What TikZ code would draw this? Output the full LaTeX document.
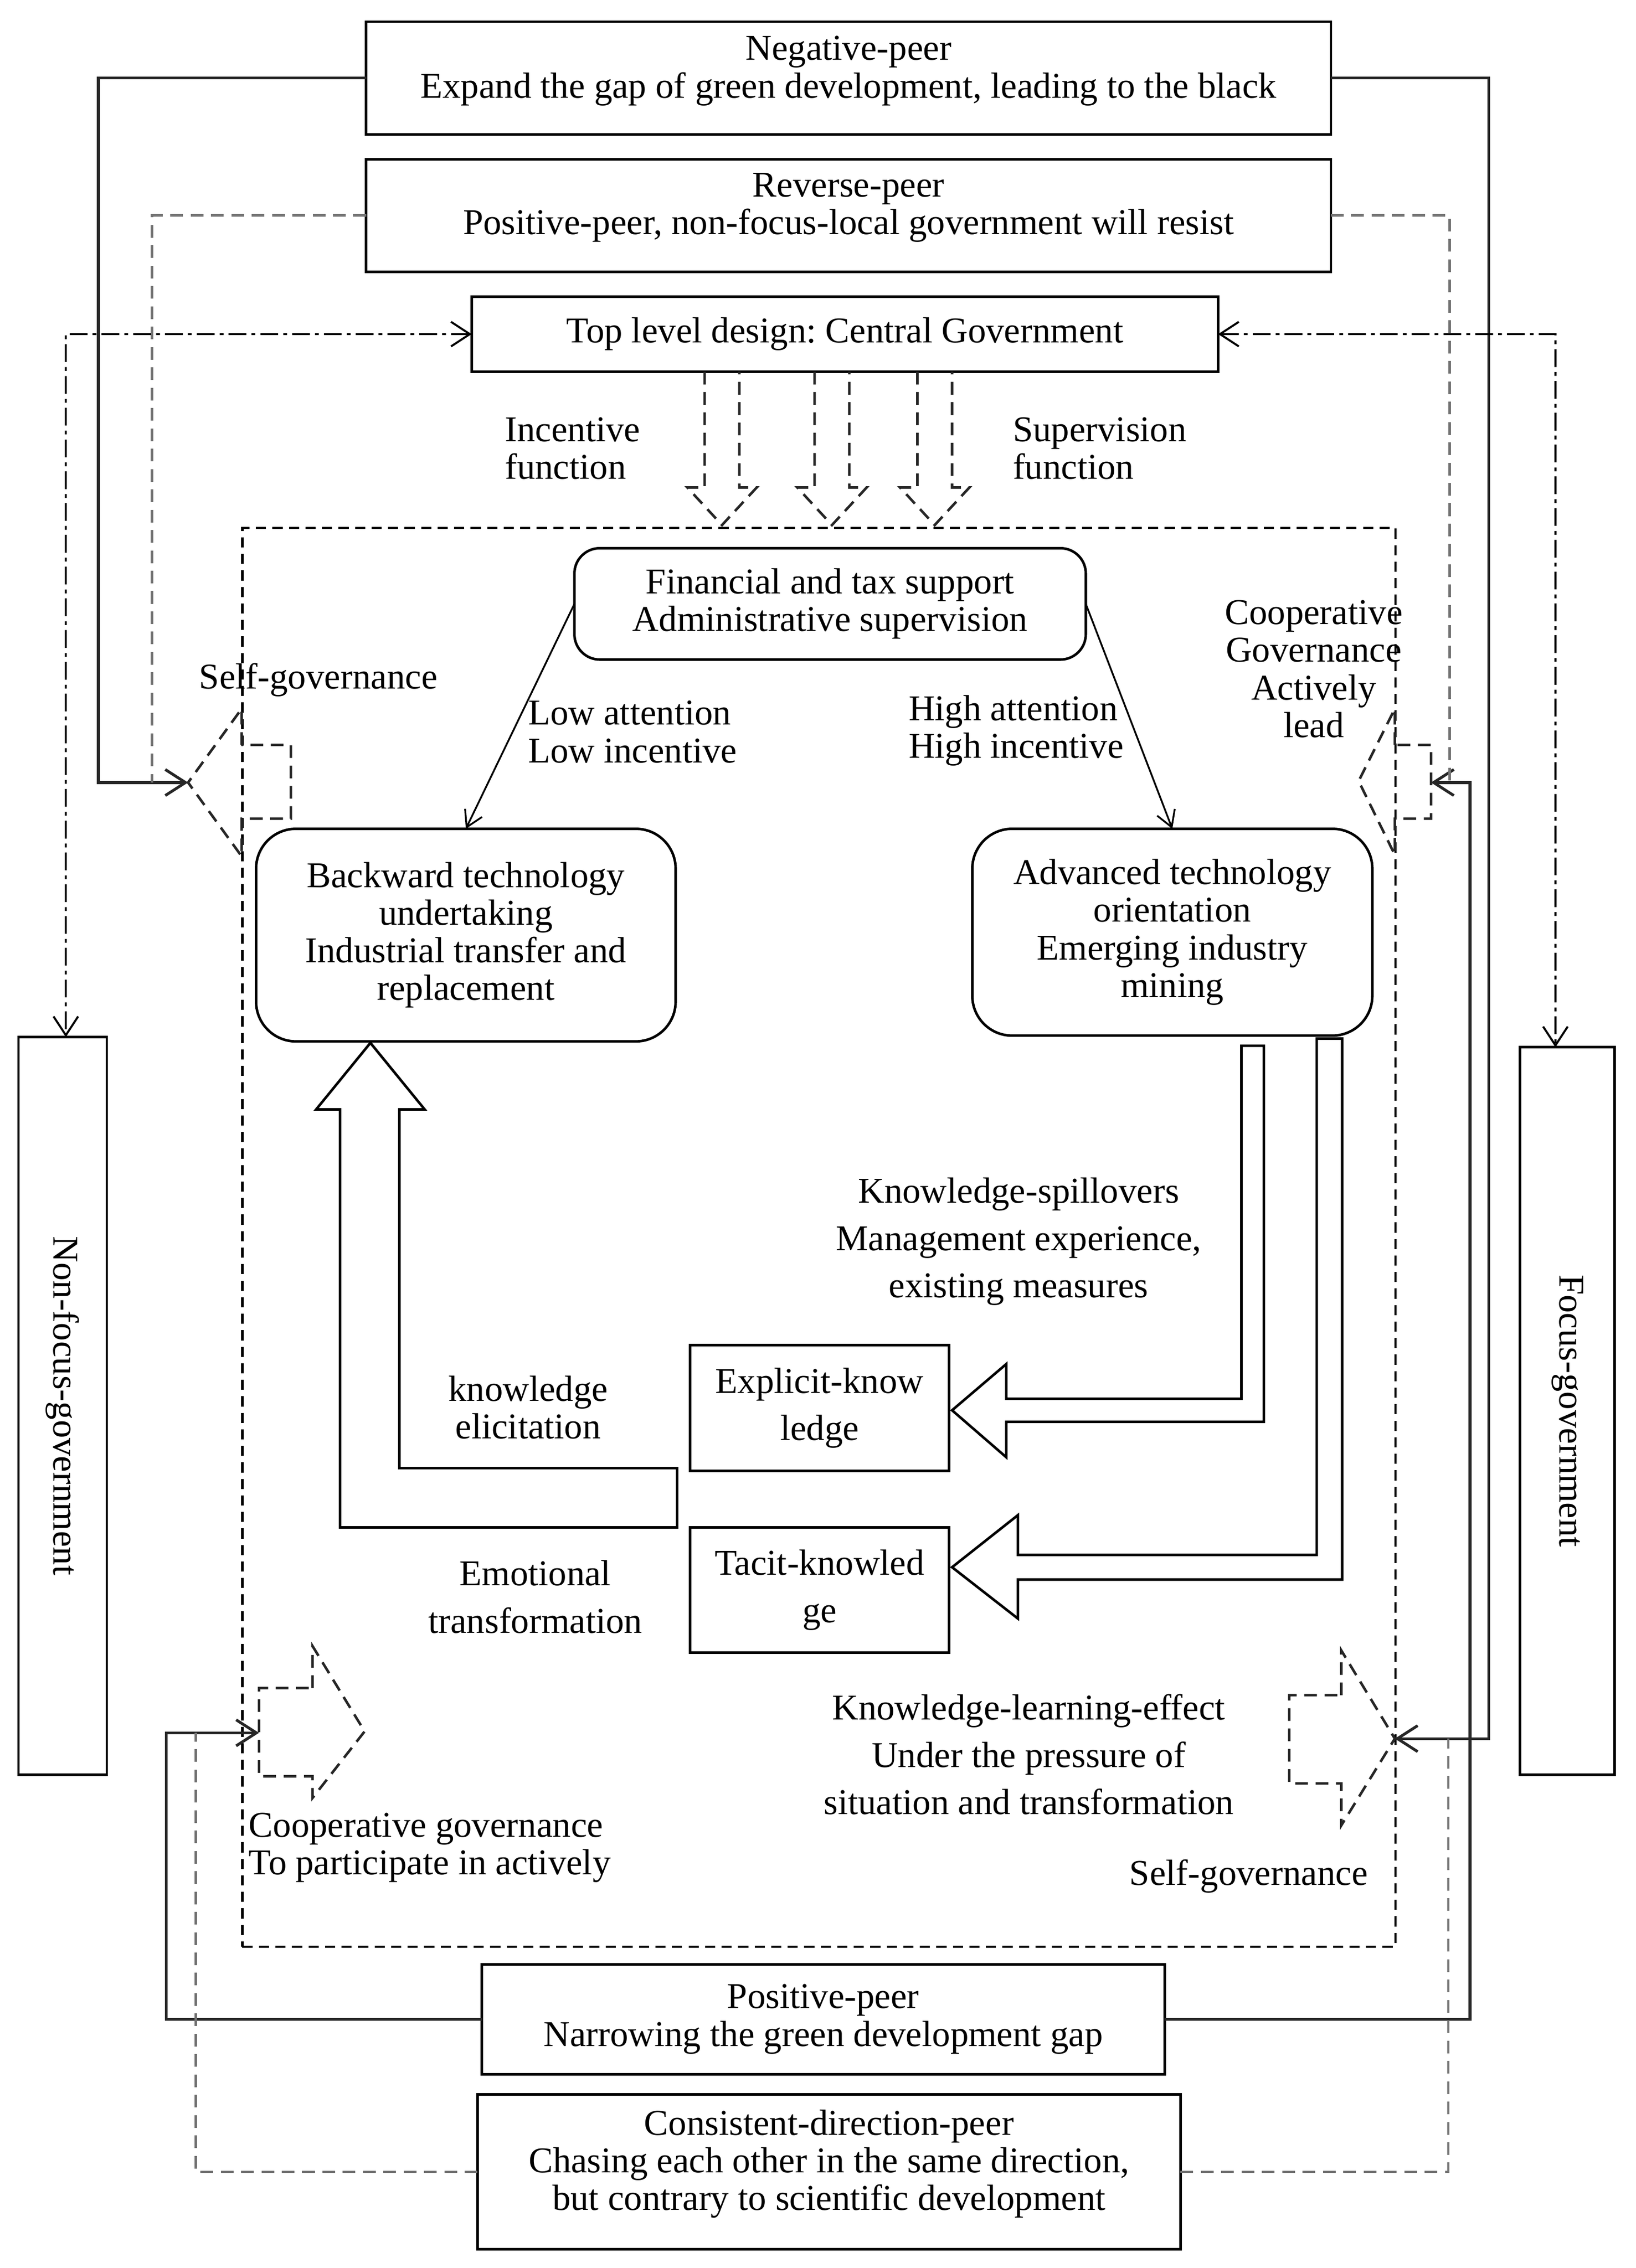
\documentclass[tikz,border=0pt]{standalone}
\usepackage{fontspec}
\setmainfont{Liberation Serif}
\usetikzlibrary{arrows.meta,calc}
\frenchspacing
\begin{document}
\begin{tikzpicture}[x=0.02cm,y=-0.02cm,
  every node/.style={inner sep=0pt, outer sep=0pt},
  txt/.style={font=\fontsize{14.3pt}{14.8pt}\selectfont, align=center},
  txtw/.style={font=\fontsize{14.3pt}{18.6pt}\selectfont, align=center},
  txtl/.style={font=\fontsize{14.3pt}{14.8pt}\selectfont, align=left, anchor=west},
  box/.style={draw, line width=1pt, anchor=north west},
  rbox/.style={box, rounded corners=#1},
  inbox/.style={draw, line width=0.9pt, dash pattern=on 4pt off 2.5pt, anchor=north west},
  blk/.style={line width=1.1pt, draw=black!85, -{Straight Barb[length=0.28cm,width=0.36cm]}},
  gdash/.style={line width=1pt, draw=black!55, dash pattern=on 5pt off 3pt},
  dd/.style={line width=0.8pt, dash pattern=on 7pt off 2pt on 1.5pt off 2pt,
     {Straight Barb[length=0.26cm,width=0.34cm]}-{Straight Barb[length=0.26cm,width=0.34cm]}},
  arr/.style={line width=0.7pt, -{Straight Barb[length=0.22cm,width=0.26cm]}},
  dblk/.style={line width=1pt, draw=black!85, dash pattern=on 5pt off 3pt},
  hblk/.style={line width=1pt, draw=black}
]
\useasboundingbox (0,0) rectangle (1130.7,1568);

% ---------- boxes ----------
\node[box, minimum width=13.34cm, minimum height=1.56cm] (neg) at (253,15) {};
\node[txt] (negT) at ([yshift=0.1cm]neg.center) {Negative-peer\\Expand the gap of green development, leading to the black};
\node[box, minimum width=13.34cm, minimum height=1.56cm] (rev) at (253,110) {};
\node[txt] (revT) at ([yshift=0.11cm]rev.center) {Reverse-peer\\Positive-peer, non-focus-local government will resist};
\node[box, txt, minimum width=10.32cm, minimum height=1.04cm] (top) at (326,205) {Top level design: Central Government};

\node[box, minimum width=1.22cm, minimum height=10.2cm] (nonfocus) at (12.8,717) {};
\node[txt, rotate=-90] (nonfocusT) at (nonfocus.center) {Non-focus-government};
\node[box, minimum width=1.31cm, minimum height=10.06cm] (focus) at (1050.5,724) {};
\node[txt, rotate=-90] (focusT) at (focus.center) {Focus-government};

\node[inbox, minimum width=15.94cm, minimum height=19.62cm] (inner) at (167.5,365) {};

\node[rbox=0.35cm, txt, minimum width=7.07cm, minimum height=1.54cm] (fin) at (397,379) {Financial and tax support\\Administrative supervision};
\node[rbox=0.55cm, txt, minimum width=5.8cm, minimum height=2.94cm] (back) at (177,573) {Backward technology\\undertaking\\Industrial transfer and\\replacement};
\node[rbox=0.55cm, txt, minimum width=5.53cm, minimum height=2.86cm] (adv) at (672,573) {Advanced technology\\orientation\\Emerging industry\\mining};

\node[box, txtw, minimum width=3.58cm, minimum height=1.74cm] (expl) at (477,930) {Explicit-know\\ledge};
\node[box, txtw, minimum width=3.58cm, minimum height=1.73cm] (tacit) at (477,1056) {Tacit-knowled\\ge};

\node[box, txt, minimum width=9.44cm, minimum height=1.52cm] (pos) at (333,1358) {Positive-peer\\Narrowing the green development gap};
\node[box, minimum width=9.72cm, minimum height=2.14cm] (cons) at (330,1448) {};
\node[txt] (consT) at ([yshift=0.11cm]cons.center) {Consistent-direction-peer\\Chasing each other in the same direction,\\but contrary to scientific development};

% ---------- free labels ----------
\node[txtl] (incT) at (349,310) {Incentive\\function};
\node[txtl] (supT) at (700,310) {Supervision\\function};
\node[txtl] (lowT) at (365,506) {Low attention\\Low incentive};
\node[txtl] (highT) at (628,505) {High attention\\High incentive};
\node[txt] (self1) at (220,470) {Self-governance};
\node[txt] (coop1) at (908,462.5) {Cooperative\\Governance\\Actively\\lead};
\node[txtw] (ksT) at (704,858.5) {Knowledge-spillovers\\Management experience,\\existing measures};
\node[txt] (keT) at (365,973) {knowledge\\elicitation};
\node[txtw] (emT) at (370,1104) {Emotional\\transformation};
\node[txtw] (klT) at (711,1213) {Knowledge-learning-effect\\Under the pressure of\\situation and transformation};
\node[txtl] (cgT) at (172,1277.5) {Cooperative governance\\To participate in actively};
\node[txt] (self2) at (863,1297) {Self-governance};

% ---------- dashed block arrows from top level design ----------
\foreach \c in {499,575,646}{
  \draw[dblk] (\c-12,257) -- (\c-12,337) -- (\c-24,337) -- (\c,363) -- (\c+24,337) -- (\c+12,337) -- (\c+12,257);
}

% ---------- chevrons (dashed block arrows) ----------
\coordinate (tLT) at (130,541);
\coordinate (tRT) at (989,541);
\coordinate (tLB) at (179,1198);
\coordinate (tRB) at (964,1202);
\draw[dblk] (167,515) -- (167,490) -- (tLT) -- (167,592) -- (167,566) -- (201,566) -- (201,515) -- cycle;
\draw[dblk] (964,515) -- (964,490) -- (939,540) -- (964,591) -- (964,566) -- (989,566) -- (989,515) -- cycle;
\draw[dblk] (216,1167) -- (216,1138) -- (252,1197) -- (216,1243) -- (216,1228) -- (179,1228) -- (179,1167) -- cycle;
\draw[dblk] (927,1172) -- (927,1141) -- (964,1202) -- (927,1262) -- (927,1233) -- (891,1233) -- (891,1172) -- cycle;

% ---------- hollow block arrows ----------
\draw[hblk] (468,1015) -- (276,1015) -- (276,767) -- (293.5,767) -- (256,721) -- (218.5,767) -- (235,767) -- (235,1056) -- (468,1056) -- cycle;
\draw[hblk] (858,723) -- (858,967) -- (695.5,967) -- (695.5,943) -- (658,975) -- (695.5,1007.5) -- (695.5,983) -- (873.5,983) -- (873.5,723) -- cycle;
\draw[hblk] (910,718) -- (910,1075) -- (703.5,1075) -- (703.5,1047.5) -- (658,1083.5) -- (703.5,1119) -- (703.5,1092) -- (927.6,1092) -- (927.6,718) -- cycle;

% ---------- connectors ----------
\draw[arr] (fin.west) -- (back.north);
\draw[arr] (fin.east) -- (adv.north);

\coordinate (kNL) at (68,541);
\coordinate (kNR) at (1029,1202);
\coordinate (kPL) at (115,1198);
\coordinate (kPR) at (1016,541);
\draw[blk] (neg.west) -| (kNL) -- (tLT);
\draw[blk] (neg.east) -| (kNR) -- (tRB);
\draw[blk] (pos.west) -| (kPL) -- (tLB);
\draw[blk] (pos.east) -| (kPR) -- (tRT);

\coordinate (kRL) at (105,541);
\coordinate (kRR) at (1002,541);
\coordinate (kCL) at (135.5,1198);
\coordinate (kCR) at (1001,1202);
\draw[gdash] (rev.west) -| (kRL);
\draw[gdash] (rev.east) -| (kRR);
\draw[gdash] (cons.west) -| (kCL);
\draw[gdash] (cons.east) -| (kCR);

\coordinate (kTL) at (45.5,231);
\coordinate (kTR) at (1075,231);
\draw[dd] (top.west) -- (kTL) -- (kTL |- nonfocus.north);
\draw[dd] (top.east) -- (kTR) -- (kTR |- focus.north);
\end{tikzpicture}
\end{document}
